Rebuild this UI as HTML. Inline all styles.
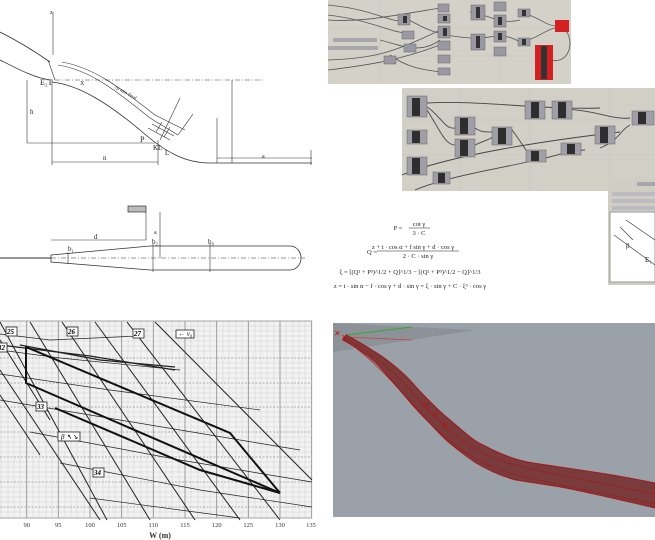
<!DOCTYPE html>
<html><head><meta charset="utf-8"><style>
html,body{margin:0;padding:0;background:#fff;width:655px;height:540px;overflow:hidden}
svg{display:block}
text{font-family:"Liberation Serif",serif}
</style></head><body>
<svg width="655" height="540" viewBox="0 0 655 540" xmlns="http://www.w3.org/2000/svg">
<!-- ===== Top-left ski jump profile ===== -->
<g stroke="#333" fill="none" stroke-width="0.8">
<path d="M0,32 C20,42 40,55 50,62"/>
<path d="M0,60 C20,70 35,78 50,80"/>
<path d="M52,82 C80,85 110,105 140,130 C165,152 185,163 210,163 L312,163"/>
<path d="M58,65 C90,70 115,90 150,118 L178,135" stroke-width="0.6"/>
<path d="M62,62 C95,68 120,88 155,115 L185,130" stroke-width="0.6"/>
<line x1="55" y1="80" x2="265" y2="80" stroke-dasharray="5,2,1,2" stroke-width="0.6"/>
<line x1="232" y1="80" x2="232" y2="163" stroke-width="0.6"/>
<line x1="217" y1="118" x2="217" y2="163" stroke-width="0.6"/>
<line x1="27" y1="80" x2="27" y2="143" stroke-width="0.6"/>
<line x1="27" y1="143" x2="155" y2="143" stroke-width="0.6"/>
<line x1="52" y1="80" x2="52" y2="165" stroke-width="0.6"/>
<line x1="52" y1="162" x2="158" y2="162" stroke-width="0.6"/>
<line x1="158" y1="140" x2="158" y2="165" stroke-width="0.6"/>
<line x1="217" y1="158" x2="312" y2="158" stroke-width="0.6"/>
<line x1="311" y1="150" x2="311" y2="165" stroke-width="0.6"/>
<line x1="53" y1="12" x2="53" y2="55" stroke-width="0.6"/>
<line x1="48" y1="60" x2="55" y2="80" stroke-width="0.6"/>
<line x1="160" y1="140" x2="180" y2="98" stroke-width="0.6"/>
<line x1="178" y1="135" x2="193" y2="114" stroke-width="0.6"/>
<path d="M148,128 L170,140 M152,124 L174,136 M156,132 L162,122 M164,137 L170,127" stroke-width="0.6"/>
</g>
<g font-size="8" fill="#222">
<text x="40" y="85">E₂T</text><text x="80" y="85" font-size="6">X</text>
<text x="30" y="114" font-size="7">h</text><text x="103" y="160" font-size="7">n</text>
<text x="262" y="158" font-size="6">a</text><text x="50" y="14" font-size="6">z</text>
<text x="140" y="142">P</text><text x="153" y="150" font-size="7">KL</text><text x="165" y="155" font-size="7">L</text>
<text x="115" y="88" font-size="5" transform="rotate(30 115 88)">rp min final</text>
</g>
<!-- tube drawing -->
<g stroke="#333" fill="none" stroke-width="0.8">
<line x1="0" y1="258" x2="51" y2="258" stroke-width="1.6" stroke="#777"/>
<path d="M51,255 L150,246 L290,246 A11,12 0 0 1 290,270 L150,270 L51,262 Z"/>
<line x1="51" y1="258" x2="305" y2="258" stroke-dasharray="5,2,1,2" stroke-width="0.5"/>
<line x1="51" y1="240" x2="146" y2="240" stroke-width="0.6"/>
<line x1="146" y1="212" x2="146" y2="240" stroke-width="0.6"/>
<line x1="160" y1="212" x2="160" y2="258" stroke-width="0.6"/>
<line x1="153" y1="244" x2="153" y2="272" stroke-width="0.6"/>
<line x1="210" y1="244" x2="210" y2="272" stroke-width="0.6"/>
<line x1="68" y1="252" x2="68" y2="264" stroke-width="0.6"/>
</g>
<rect x="128" y="206" width="18" height="6" fill="#bbb" stroke="#333" stroke-width="0.7"/>
<g font-size="7" fill="#222"><text x="94" y="239">d</text><text x="68" y="251">b₁</text><text x="152" y="244">b₂</text><text x="208" y="244">b₀</text><text x="154" y="234" font-size="6">a</text></g>

<!-- ===== Grasshopper panel 1 ===== -->
<rect x="328" y="0" width="243" height="84" fill="#d4d1c9"/>
<g stroke="#c6c3bb" stroke-width="0.5"><line x1="328" y1="28" x2="571" y2="28"/><line x1="328" y1="56" x2="571" y2="56"/><line x1="380" y1="0" x2="380" y2="84"/><line x1="440" y1="0" x2="440" y2="84"/><line x1="500" y1="0" x2="500" y2="84"/></g>
<g stroke="#555" fill="none" stroke-width="0.8">
<path d="M328,5 C380,10 390,25 410,20"/><path d="M328,15 C370,20 390,32 405,33"/><path d="M328,20 C360,22 380,18 440,8"/>
<path d="M328,60 C370,58 390,55 440,30"/><path d="M328,70 C370,65 400,60 440,45"/>
<path d="M380,40 C400,45 420,55 440,40"/><path d="M405,18 C420,25 430,35 470,38"/>
<path d="M470,12 C490,15 500,25 520,20"/><path d="M470,38 C490,40 500,30 520,42"/>
<path d="M520,12 C535,15 545,25 555,26"/><path d="M520,42 C535,40 545,30 555,28"/>
<path d="M550,60 C570,65 575,40 565,30"/><path d="M390,55 C410,70 430,70 440,72"/>
</g>
<g fill="#9a98a2" stroke="#666" stroke-width="0.5">
<rect x="398" y="14" width="12" height="11"/><rect x="438" y="4" width="11" height="8"/><rect x="438" y="14" width="12" height="9"/>
<rect x="402" y="31" width="12" height="8"/><rect x="438" y="26" width="12" height="12"/><rect x="438" y="41" width="12" height="9"/>
<rect x="404" y="44" width="12" height="8"/><rect x="471" y="5" width="14" height="15"/><rect x="471" y="34" width="14" height="16"/>
<rect x="494" y="2" width="12" height="9"/><rect x="494" y="15" width="12" height="12"/><rect x="494" y="31" width="12" height="11"/><rect x="494" y="47" width="12" height="9"/>
<rect x="518" y="9" width="12" height="8"/><rect x="518" y="38" width="12" height="8"/><rect x="384" y="56" width="12" height="8"/><rect x="438" y="55" width="12" height="8"/><rect x="438" y="68" width="12" height="7"/>
</g>
<g fill="#333"><rect x="403" y="16" width="4" height="7"/><rect x="443" y="16" width="4" height="5"/><rect x="443" y="28" width="4" height="8"/><rect x="476" y="7" width="4" height="11"/><rect x="476" y="36" width="4" height="12"/><rect x="498" y="17" width="4" height="8"/><rect x="498" y="33" width="4" height="7"/><rect x="522" y="10" width="4" height="6"/><rect x="522" y="39" width="4" height="6"/></g>
<rect x="333" y="38" width="44" height="4" fill="#a9a7ae"/><rect x="328" y="46" width="50" height="4" fill="#a9a7ae"/>
<rect x="555" y="20" width="14" height="12" fill="#d42020"/><rect x="535" y="45" width="18" height="35" fill="#d42020"/><rect x="541" y="46" width="6" height="33" fill="#333"/>

<!-- ===== Grasshopper panel 2 ===== -->
<rect x="402" y="88" width="253" height="103" fill="#d2cfc7"/>
<g stroke="#c4c1b9" stroke-width="0.5"><line x1="402" y1="120" x2="655" y2="120"/><line x1="402" y1="155" x2="655" y2="155"/><line x1="460" y1="88" x2="460" y2="191"/><line x1="530" y1="88" x2="530" y2="191"/><line x1="610" y1="88" x2="610" y2="191"/></g>
<g stroke="#444" fill="none" stroke-width="0.9">
<path d="M427,103 C480,100 540,110 600,108"/><path d="M427,107 C440,115 445,130 455,128"/><path d="M427,110 C440,130 445,145 455,145"/>
<path d="M475,128 C485,135 490,130 495,133"/><path d="M475,145 C485,140 490,140 495,135"/><path d="M512,130 C520,140 525,150 530,155"/>
<path d="M552,108 C600,110 610,120 630,118"/><path d="M545,158 C560,155 570,150 585,150"/><path d="M600,148 C620,140 620,130 630,125"/>
<path d="M402,175 C450,155 550,140 620,132"/><path d="M415,190 C450,175 520,165 535,160"/>
</g>
<g fill="#a09ea6" stroke="#666" stroke-width="0.5">
<rect x="407" y="96" width="20" height="21"/><rect x="407" y="130" width="20" height="14"/><rect x="407" y="157" width="20" height="18"/><rect x="433" y="172" width="17" height="12"/>
<rect x="455" y="117" width="20" height="18"/><rect x="455" y="139" width="20" height="18"/><rect x="492" y="127" width="20" height="18"/>
<rect x="525" y="101" width="20" height="18"/><rect x="552" y="101" width="20" height="18"/><rect x="526" y="150" width="20" height="12"/><rect x="561" y="143" width="20" height="12"/>
<rect x="595" y="126" width="20" height="18"/><rect x="632" y="111" width="22" height="14"/>
</g>
<g fill="#2e2e2e"><rect x="412" y="98" width="8" height="18"/><rect x="412" y="131" width="8" height="12"/><rect x="412" y="158" width="8" height="16"/><rect x="438" y="173" width="7" height="10"/><rect x="460" y="118" width="8" height="16"/><rect x="460" y="140" width="8" height="16"/><rect x="498" y="128" width="8" height="16"/><rect x="531" y="102" width="8" height="16"/><rect x="558" y="102" width="8" height="16"/><rect x="531" y="151" width="8" height="10"/><rect x="567" y="144" width="8" height="10"/><rect x="600" y="127" width="8" height="16"/><rect x="638" y="112" width="8" height="12"/></g>

<!-- ===== panel 3 ===== -->
<rect x="608" y="178" width="47" height="107" fill="#d0cdc5"/>
<rect x="637" y="182" width="18" height="4" fill="#a8a6ad"/>
<rect x="612" y="192" width="43" height="4" fill="#bdbbc2"/><rect x="612" y="199" width="43" height="4" fill="#bdbbc2"/><rect x="612" y="206" width="43" height="4" fill="#bdbbc2"/>
<rect x="610" y="212" width="45" height="70" fill="#fff" stroke="#999" stroke-width="1"/>
<g stroke="#333" stroke-width="0.6" fill="none"><line x1="614" y1="235" x2="655" y2="265"/><line x1="626" y1="220" x2="655" y2="240"/><line x1="620" y1="227" x2="633" y2="240"/></g>
<g font-size="7" fill="#222"><text x="626" y="248">β</text><text x="645" y="262">E₁</text></g>

<!-- ===== formulas ===== -->
<g font-size="6.5" fill="#222" text-anchor="middle">
<text x="398" y="230">P =</text><text x="419" y="226">cot γ</text><line x1="409" y1="228" x2="430" y2="228" stroke="#222" stroke-width="0.5"/><text x="419" y="235">3 · C</text>
<text x="372" y="254">Q =</text><text x="413" y="249">z + t · cos α + f sin γ + d · cos γ</text><line x1="377" y1="251" x2="459" y2="251" stroke="#222" stroke-width="0.5"/><text x="418" y="258">2 · C · sin γ</text>
<text x="410" y="274">ξ = [(Q² + P³)^1/2 + Q]^1/3 − [(Q² + P³)^1/2 − Q]^1/3</text>
<text x="410" y="288">z = t · sin α − f · cos γ + d · sin γ = ξ · sin γ + C · ξ³ · cos γ</text>
</g>

<!-- ===== chart ===== -->
<rect x="0" y="321" width="312" height="197" fill="#f2f2f2"/>
<g stroke="#c8c8c8" stroke-width="0.4">
<path d="M0,326H312M0,331H312M0,336H312M0,341H312M0,346H312M0,351H312M0,363H312M0,368H312M0,373H312M0,378H312M0,388H312M0,393H312M0,398H312M0,402H312M0,412H312M0,417H312M0,422H312M0,427H312M0,437H312M0,442H312M0,447H312M0,452H312M0,462H312M0,467H312M0,472H312M0,477H312M0,487H312M0,492H312M0,497H312M0,502H312M0,512H312"/>
<path d="M1,321V518M8,321V518M14,321V518M20,321V518M33,321V518M39,321V518M46,321V518M52,321V518M65,321V518M71,321V518M77,321V518M84,321V518M96,321V518M103,321V518M109,321V518M115,321V518M128,321V518M134,321V518M141,321V518M147,321V518M160,321V518M166,321V518M172,321V518M179,321V518M191,321V518M198,321V518M204,321V518M210,321V518M223,321V518M229,321V518M236,321V518M242,321V518M255,321V518M261,321V518M267,321V518M274,321V518M286,321V518M293,321V518M299,321V518M305,321V518"/>
</g>
<g stroke="#888" stroke-width="0.8"><path d="M0,321H312M0,518H312M26.7,321V518M58.3,321V518M90,321V518M121.7,321V518M153.3,321V518M185,321V518M216.7,321V518M248.3,321V518M280,321V518M311.7,321V518"/></g>
<g stroke="#999" stroke-width="0.7" stroke-dasharray="2,1.5"><path d="M0,358H312M0,383H312M0,407H312M0,432H312M0,457H312M0,482H312M0,507H312"/></g>
<g stroke="#222" fill="none" stroke-width="1">
<path d="M0,322L107,520M30,322L150,520M62,322L195,520M95,322L240,520M127,322L280,520M155,322L312,480"/>
<path d="M0,340L50,420M0,370L100,520M0,395L40,455"/>
<path d="M0,334L50,340L140,336" stroke-width="0.7"/>
<path d="M0,350L60,358L180,370" stroke-width="0.7"/>
<path d="M0,374L110,390L260,410" stroke-width="0.7"/>
<path d="M0,400L120,420L300,450" stroke-width="0.7"/>
<path d="M30,432L180,460L312,482" stroke-width="0.7"/>
<path d="M60,463L200,490L312,507" stroke-width="0.7"/>
<path d="M90,498L240,518" stroke-width="0.7"/>
<path d="M0,345L90,356L175,370" stroke-width="1.2"/>
<path d="M20,345L100,360L175,367" stroke-width="1.2"/>
</g>
<g stroke="#111" fill="none" stroke-width="2">
<path d="M26,347V383L280,493L230,433L26,347Z"/>
<path d="M55,408L130,440L200,470L280,493"/>
</g>
<g font-size="7" font-family="Liberation Sans" font-weight="bold" font-style="italic">
<rect x="6" y="327" width="11" height="9" fill="#fff" stroke="#222" stroke-width="0.8"/><text x="7" y="334">25</text>
<rect x="67" y="327" width="11" height="9" fill="#fff" stroke="#222" stroke-width="0.8"/><text x="68" y="334">26</text>
<rect x="133" y="329" width="11" height="9" fill="#fff" stroke="#222" stroke-width="0.8"/><text x="134" y="336">27</text>
<rect x="176" y="330" width="18" height="8" fill="#fff" stroke="#222" stroke-width="0.8"/><text x="178" y="336" font-weight="normal">← v₀</text>
<rect x="-2" y="343" width="9" height="9" fill="#fff" stroke="#222" stroke-width="0.8"/><text x="-2" y="350">32</text>
<rect x="36" y="402" width="11" height="9" fill="#fff" stroke="#222" stroke-width="0.8"/><text x="37" y="409">33</text>
<rect x="58" y="432" width="22" height="9" fill="#fff" stroke="#222" stroke-width="0.8"/><text x="61" y="439" font-weight="normal">β ↖↘</text>
<rect x="93" y="468" width="11" height="9" fill="#fff" stroke="#222" stroke-width="0.8"/><text x="94" y="475">34</text>
</g>
<g font-size="6.5" font-family="Liberation Sans" fill="#333" text-anchor="middle">
<text x="26.7" y="527">90</text><text x="58.3" y="527">95</text><text x="90" y="527">100</text><text x="121.7" y="527">105</text><text x="153.3" y="527">110</text><text x="185" y="527">115</text><text x="216.7" y="527">120</text><text x="248.3" y="527">125</text><text x="280" y="527">130</text><text x="311" y="527">135</text>
<text x="160" y="538" font-size="8" font-weight="bold">W (m)</text>
</g>

<!-- ===== 3D render ===== -->
<rect x="333" y="323" width="322" height="194" fill="#9ba1a8"/>
<path d="M333,323 L476,330 L333,352 Z" fill="#8d9299"/>
<line x1="346" y1="335" x2="412" y2="327" stroke="#3a3" stroke-width="1"/>
<line x1="346" y1="337" x2="412" y2="340" stroke="#b44" stroke-width="0.8"/>
<path d="M346,335 C360,342 372,350 383,357 C398,368 408,377 416,387 C428,400 440,412 450,420 C462,430 472,440 483,445 C500,454 515,460 533,463 C560,467 580,470 600,473 C620,476 640,480 655,483 L655,508 C630,502 600,495 566,488 C550,485 535,483 516,480 C500,476 488,470 476,463 C465,455 453,447 443,437 C430,424 418,410 406,397 C395,385 385,372 376,363 C366,354 355,346 343,340 Z" fill="#7a3b3d" stroke="#a31a1a" stroke-width="1"/>
<path d="M345,338 C370,352 395,372 412,392 C430,414 450,434 480,452 C510,468 560,474 655,494" fill="none" stroke="#a31a1a" stroke-width="0.7"/>
<path d="M344,339 C368,356 390,378 408,400 C425,420 445,440 478,460 C510,478 560,484 655,504" fill="none" stroke="#a31a1a" stroke-width="0.7"/>
<g fill="#c01010" font-size="8" font-family="Liberation Sans"><text x="334" y="336">✕</text><text x="341" y="340">✕</text><text x="423" y="408">✕</text><text x="432" y="418">✕</text><text x="442" y="428">✕</text></g>
</svg>
</body></html>
